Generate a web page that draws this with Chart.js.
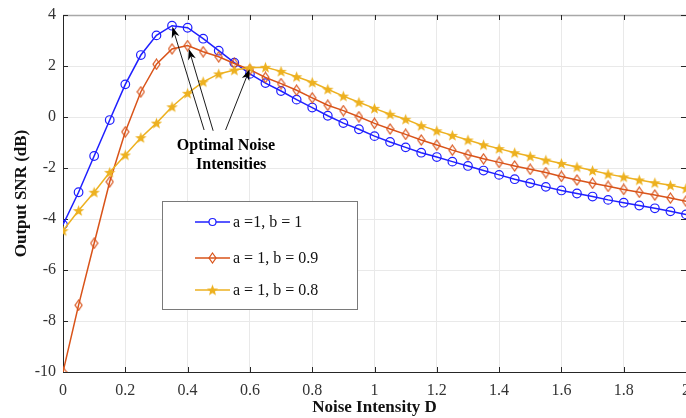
<!DOCTYPE html>
<html>
<head>
<meta charset="utf-8">
<title>Output SNR vs Noise Intensity</title>
<script src="https://cdn.jsdelivr.net/npm/chart.js@4.4.0/dist/chart.umd.min.js"></script>
<style>
  html, body { margin: 0; padding: 0; background: #fff; overflow: hidden; }
  #wrap { width: 686px; height: 418px; }
  #snrChart { display: block; }
</style>
</head>
<body>
<div id="wrap"><canvas id="snrChart" width="686" height="418"></canvas></div>
<script>
// noise intensity D
const noiseD = [0, 0.05, 0.1, 0.15, 0.2, 0.25, 0.3, 0.35, 0.4, 0.45, 0.5, 0.55, 0.6, 0.65, 0.7,
  0.75, 0.8, 0.85, 0.9, 0.95, 1, 1.05, 1.1, 1.15, 1.2, 1.25, 1.3, 1.35, 1.4, 1.45, 1.5,
  1.55, 1.6, 1.65, 1.7, 1.75, 1.8, 1.85, 1.9, 1.95, 2];

// output SNR (dB), one array per b
const snrB10 = [-4.22, -2.95, -1.53, -0.12, 1.28, 2.43, 3.20, 3.58, 3.50, 3.07, 2.60, 2.13, 1.69, 1.33, 1.02,
  0.68, 0.37, 0.05, -0.24, -0.48, -0.75, -0.98, -1.19, -1.40, -1.57, -1.75, -1.92, -2.10, -2.27, -2.44, -2.59,
  -2.74, -2.88, -3.00, -3.12, -3.25, -3.36, -3.47, -3.58, -3.70, -3.82];
const snrB09 = [-10.0, -7.38, -4.95, -2.54, -0.58, 0.99, 2.07, 2.67, 2.80, 2.56, 2.36, 2.10, 1.86, 1.55, 1.31,
  1.05, 0.75, 0.46, 0.25, 0.01, -0.25, -0.47, -0.68, -0.90, -1.10, -1.30, -1.48, -1.64, -1.78, -1.92, -2.05,
  -2.18, -2.33, -2.47, -2.60, -2.72, -2.84, -2.95, -3.06, -3.18, -3.30];
const snrB08 = [-4.46, -3.67, -2.95, -2.17, -1.49, -0.81, -0.24, 0.40, 0.93, 1.38, 1.69, 1.84, 1.93, 1.95, 1.79,
  1.58, 1.36, 1.09, 0.82, 0.58, 0.34, 0.11, -0.09, -0.34, -0.54, -0.72, -0.90, -1.09, -1.24, -1.40, -1.54,
  -1.69, -1.82, -1.96, -2.10, -2.24, -2.35, -2.47, -2.58, -2.68, -2.80];

const seriesLabels = ['a =1, b = 1', 'a = 1, b = 0.9', 'a = 1, b = 0.8'];
const xTicks = [0, 0.2, 0.4, 0.6, 0.8, 1, 1.2, 1.4, 1.6, 1.8, 2];
const yTicks = [-10, -8, -6, -4, -2, 0, 2, 4];

// "Optimal Noise Intensities" note: arrows from the text up to each peak (data units)
const arrowTails = [[0.453, -0.51], [0.482, -0.54], [0.522, -0.51]];
const arrowHeads = [[0.351, 3.54], [0.404, 2.67], [0.599, 1.87]];
const noteLines = ['Optimal Noise', 'Intensities'];
const notePos = [[0.523, -1.12], [0.54, -1.88]];

const colors = ['#1f1fff', '#d95319', '#edb120'];
const serif = "'Liberation Serif', 'Times New Roman', serif";

function makeMarker(w, h, draw) {
  const c = document.createElement('canvas');
  c.width = w;
  c.height = h;
  draw(c.getContext('2d'), w, h);
  return c;
}

// open diamond
const diamondMark = makeMarker(9, 12, function (g, w, h) {
  g.strokeStyle = colors[1];
  g.lineWidth = 1.2;
  g.beginPath();
  g.moveTo(w / 2, 1);
  g.lineTo(w - 1, h / 2);
  g.lineTo(w / 2, h - 1);
  g.lineTo(1, h / 2);
  g.closePath();
  g.stroke();
});

// filled pentagram
const starMark = makeMarker(13, 13, function (g, w, h) {
  const cx = w / 2, cy = h / 2 + 0.5, ro = 6, ri = 2.5;
  g.fillStyle = colors[2];
  g.beginPath();
  for (let i = 0; i < 10; i++) {
    const r = i % 2 ? ri : ro;
    const a = -Math.PI / 2 + i * Math.PI / 5;
    const px = cx + r * Math.cos(a), py = cy + r * Math.sin(a);
    if (i === 0) g.moveTo(px, py); else g.lineTo(px, py);
  }
  g.closePath();
  g.fill();
});

function toPoints(ys) {
  return noiseD.map((d, i) => ({ x: d, y: ys[i] }));
}

// no extra room for the end labels, the last x label may run off the edge
function noScalePadding(s) {
  s.paddingLeft = 0;
  s.paddingRight = 0;
  s.paddingTop = 0;
  s.paddingBottom = 0;
}

// top border plus inward tick marks on all four sides
const framePlugin = {
  id: 'frame',
  beforeDatasetsDraw(chart) {
    const { ctx, chartArea: a, scales } = chart;
    ctx.save();
    ctx.strokeStyle = '#a8a8a8';
    ctx.lineWidth = 1.5;
    ctx.beginPath();
    ctx.moveTo(a.left, a.top + 0.5);
    ctx.lineTo(a.right, a.top + 0.5);
    ctx.stroke();
    ctx.strokeStyle = '#262626';
    ctx.lineWidth = 1;
    ctx.beginPath();
    xTicks.forEach(v => {
      const px = Math.round(scales.x.getPixelForValue(v)) + 0.5;
      ctx.moveTo(px, a.bottom);
      ctx.lineTo(px, a.bottom - 5);
      ctx.moveTo(px, a.top);
      ctx.lineTo(px, a.top + 5);
    });
    yTicks.forEach(v => {
      const py = Math.round(scales.y.getPixelForValue(v)) + 0.5;
      ctx.moveTo(a.left, py);
      ctx.lineTo(a.left + 5, py);
      ctx.moveTo(a.right, py);
      ctx.lineTo(a.right - 5, py);
    });
    ctx.stroke();
    ctx.restore();
  }
};

// arrows, note text and the boxed legend
const notesPlugin = {
  id: 'notes',
  afterDatasetsDraw(chart) {
    const { ctx, scales } = chart;
    const px = v => scales.x.getPixelForValue(v);
    const py = v => scales.y.getPixelForValue(v);
    ctx.save();

    ctx.strokeStyle = '#000';
    ctx.fillStyle = '#000';
    ctx.lineWidth = 0.9;
    arrowTails.forEach((t, i) => {
      const x0 = px(t[0]), y0 = py(t[1]);
      const x1 = px(arrowHeads[i][0]), y1 = py(arrowHeads[i][1]);
      const ang = Math.atan2(y1 - y0, x1 - x0);
      const len = 11, half = 4;
      ctx.beginPath();
      ctx.moveTo(x0, y0);
      ctx.lineTo(x1 - Math.cos(ang) * 6, y1 - Math.sin(ang) * 6);
      ctx.stroke();
      const bx = x1 - Math.cos(ang) * len, by = y1 - Math.sin(ang) * len;
      const nx = x1 - Math.cos(ang) * len * 0.7, ny = y1 - Math.sin(ang) * len * 0.7;
      ctx.beginPath();
      ctx.moveTo(x1, y1);
      ctx.lineTo(bx + Math.sin(ang) * half, by - Math.cos(ang) * half);
      ctx.lineTo(nx, ny);
      ctx.lineTo(bx - Math.sin(ang) * half, by + Math.cos(ang) * half);
      ctx.closePath();
      ctx.fill();
    });

    ctx.font = 'bold 16px ' + serif;
    ctx.textAlign = 'center';
    ctx.textBaseline = 'middle';
    noteLines.forEach((txt, i) => {
      ctx.fillText(txt, px(notePos[i][0]), py(notePos[i][1]));
    });

    // legend box
    const box = { left: 162, top: 201, width: 195, height: 108 };
    const rows = [222, 258, 290];
    ctx.fillStyle = '#fff';
    ctx.fillRect(box.left, box.top, box.width, box.height);
    ctx.strokeStyle = '#7a7a7a';
    ctx.lineWidth = 1;
    ctx.strokeRect(box.left + 0.5, box.top + 0.5, box.width, box.height);
    ctx.font = '16px ' + serif;
    ctx.textAlign = 'left';
    chart.data.datasets.forEach((ds, i) => {
      const y = rows[i];
      ctx.strokeStyle = ds.borderColor;
      ctx.lineWidth = 1.5;
      ctx.beginPath();
      ctx.moveTo(195, y);
      ctx.lineTo(230, y);
      ctx.stroke();
      if (ds.pointStyle === 'circle') {
        ctx.lineWidth = 1.2;
        ctx.fillStyle = '#fff';
        ctx.beginPath();
        ctx.arc(212.5, y, 3.5, 0, Math.PI * 2);
        ctx.fill();
        ctx.stroke();
      } else {
        const img = ds.pointStyle;
        ctx.drawImage(img, 212.5 - img.width / 2, y - img.height / 2);
      }
      ctx.fillStyle = '#111';
      ctx.fillText(seriesLabels[i], 233, y + 1);
    });
    ctx.restore();
  }
};

document.addEventListener('DOMContentLoaded', function () {
  const ctx = document.getElementById('snrChart');

  new Chart(ctx, {
    type: 'line',
    data: {
      datasets: [{
        label: seriesLabels[0],
        data: toPoints(snrB10),
        borderColor: colors[0],
        backgroundColor: 'rgba(0,0,0,0)',
        borderWidth: 1.5,
        pointStyle: 'circle',
        pointRadius: 4.3,
        pointBorderWidth: 1.2,
        order: 2
      }, {
        label: seriesLabels[1],
        data: toPoints(snrB09),
        borderColor: colors[1],
        backgroundColor: 'rgba(0,0,0,0)',
        borderWidth: 1.5,
        pointStyle: diamondMark,
        order: 1
      }, {
        label: seriesLabels[2],
        data: toPoints(snrB08),
        borderColor: colors[2],
        backgroundColor: 'rgba(0,0,0,0)',
        borderWidth: 1.5,
        pointStyle: starMark,
        order: 0
      }]
    },
    options: {
      responsive: false,
      animation: false,
      devicePixelRatio: 1,
      layout: { padding: { top: 15, left: 0, right: 0, bottom: 0 }, autoPadding: false },
      plugins: { legend: { display: false }, tooltip: { enabled: false } },
      elements: { line: { tension: 0 } },
      scales: {
        x: {
          type: 'linear',
          min: 0,
          max: 2,
          afterBuildTicks: s => { s.ticks = xTicks.map(v => ({ value: v })); },
          afterFit: s => { s.height = 46; noScalePadding(s); },
          ticks: {
            font: { family: serif, size: 16 },
            color: '#333',
            padding: 9,
            maxRotation: 0,
            autoSkip: false,
            callback: v => String(v)
          },
          grid: { color: '#e9e9e9', drawTicks: false },
          border: { color: '#262626', width: 1 },
          title: {
            display: true,
            text: 'Noise Intensity D',
            font: { family: serif, size: 17, weight: 'bold' },
            color: '#111',
            padding: { top: 0, bottom: 0 }
          }
        },
        y: {
          min: -10,
          max: 4,
          afterBuildTicks: s => { s.ticks = yTicks.map(v => ({ value: v })); },
          afterFit: s => { s.width = 63; noScalePadding(s); },
          ticks: {
            font: { family: serif, size: 16 },
            color: '#333',
            padding: 7,
            autoSkip: false,
            callback: v => String(v)
          },
          grid: { color: '#e9e9e9', drawTicks: false },
          border: { color: '#262626', width: 1 },
          title: {
            display: true,
            text: 'Output SNR (dB)',
            font: { family: serif, size: 17, weight: 'bold' },
            color: '#111',
            padding: { top: 11, bottom: 0 }
          }
        }
      }
    },
    plugins: [framePlugin, notesPlugin]
  });
});
</script>
</body>
</html>
